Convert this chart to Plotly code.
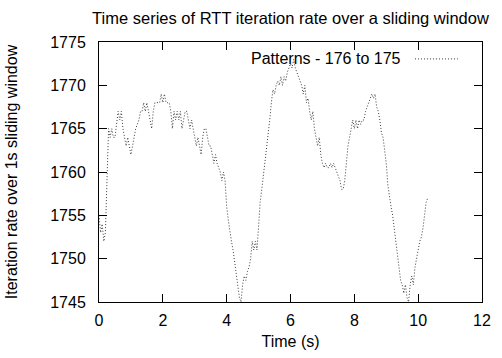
import plotly.graph_objects as go

title_text = "Time series of RTT iteration rate over a sliding window"
series_name = "Patterns - 176 to 175"
x_title = "Time (s)"
y_title = "Iteration rate over 1s sliding window"

x_ticks = [0, 2, 4, 6, 8, 10, 12]
y_ticks = [1745, 1750, 1755, 1760, 1765, 1770, 1775]

time_s = [round(i * 0.05, 2) for i in range(207)]

rate = [
    1755, 1753, 1754, 1752, 1753, 1758, 1765, 1764, 1765, 1764,   # 0.00-0.45
    1764, 1765.5, 1767, 1766, 1767, 1765, 1764, 1763, 1764, 1763, # 0.50-0.95
    1762, 1763, 1764, 1765, 1765.5, 1766, 1767, 1767, 1768, 1767, # 1.00-1.45
    1768, 1767, 1766, 1765, 1767, 1768, 1768, 1768, 1768, 1769,   # 1.50-1.95
    1768, 1769, 1768, 1768, 1768, 1767, 1765, 1767, 1766, 1767,   # 2.00-2.45
    1766, 1767, 1765, 1766, 1767, 1767, 1766, 1765, 1766, 1765,   # 2.50-2.95
    1764, 1763, 1764, 1763, 1762, 1764, 1765, 1765, 1764, 1763,   # 3.00-3.45
    1763, 1762, 1761, 1762, 1761, 1760.5, 1760, 1759, 1760, 1759, # 3.50-3.95
    1756, 1754.5, 1753, 1752, 1751, 1749.5, 1748, 1747, 1745.5, 1745,  # 4.00-4.45
    1747, 1748, 1747.5, 1748.5, 1749, 1750, 1752, 1751, 1752, 1751,    # 4.50-4.95
    1754.5, 1756.5, 1758, 1759.5, 1761, 1763, 1764.5, 1766, 1768, 1769.5,  # 5.00-5.45
    1769, 1770, 1770.5, 1770, 1771, 1770, 1771, 1770.5, 1771.5, 1772,      # 5.50-5.95
    1772.5, 1772, 1773, 1772, 1771.5, 1771, 1770.5, 1770, 1769, 1770,      # 6.00-6.45
    1768, 1768.5, 1767, 1766, 1767, 1765, 1764, 1763, 1764, 1762,          # 6.50-6.95
    1761, 1760.5, 1761, 1760.5, 1760.5, 1761, 1760.5, 1761, 1760.5, 1760,  # 7.00-7.45
    1759.5, 1759, 1758, 1758, 1759, 1761, 1763, 1764, 1765, 1766,          # 7.50-7.95
    1765, 1766, 1765, 1766, 1765.5, 1766, 1766, 1767, 1767.5, 1768,        # 8.00-8.45
    1768.5, 1769, 1768.5, 1769, 1767.5, 1767, 1766, 1764.5, 1764, 1762.5,  # 8.50-8.95
    1761, 1758.5, 1757, 1756, 1755, 1753.5, 1752, 1750, 1748.5, 1747.5,    # 9.00-9.45
    1747, 1746, 1747, 1745.5, 1745, 1747, 1748, 1747, 1749, 1750,          # 9.50-9.95
    1751, 1752, 1752.5, 1753.5, 1755, 1756.5, 1757,                        # 10.00-10.30
]

FONT = "Liberation Sans, Arial, sans-serif"
LINE_COLOR = "#3a3a3a"
LINE_DASH = "1px,2px"

fig = go.Figure()
fig.add_trace(go.Scatter(
    x=time_s, y=rate, mode="lines", name=series_name,
    line=dict(color=LINE_COLOR, width=1, dash=LINE_DASH),
    showlegend=False,
))

# gnuplot-style key: text then line sample
fig.add_annotation(
    x=0.795, y=0.935, xref="paper", yref="paper",
    text=series_name, showarrow=False, xanchor="right", yanchor="middle",
    font=dict(family=FONT, size=16, color="black"),
)
fig.add_shape(
    type="line", xref="paper", yref="paper",
    x0=0.825, x1=0.937, y0=0.935, y1=0.935,
    line=dict(color=LINE_COLOR, width=1, dash=LINE_DASH),
)

axis_common = dict(
    showline=True, linecolor="black", linewidth=1, mirror="ticks",
    ticks="inside", ticklen=8, tickcolor="black", tickwidth=1,
    showgrid=False, zeroline=False,
    tickfont=dict(family=FONT, size=16, color="black"),
)

fig.update_layout(
    width=502, height=358,
    margin=dict(l=96, r=11, t=42, b=54),
    paper_bgcolor="white", plot_bgcolor="white",
    font=dict(family=FONT, size=16, color="black"),
    title=dict(text=title_text, x=0.5, xref="paper", xanchor="center",
               y=1 - 18 / 358, yref="container", yanchor="middle",
               font=dict(family=FONT, size=16.5, color="black")),
    xaxis=dict(range=[0, 12], tickvals=x_ticks, ticktext=[str(v) for v in x_ticks],
               title=dict(text=x_title, standoff=7, font=dict(family=FONT, size=16)),
               ticklabelstandoff=4, **axis_common),
    yaxis=dict(range=[1745, 1775], tickvals=y_ticks, ticktext=[str(v) for v in y_ticks],
               title=dict(text=y_title, standoff=28, font=dict(family=FONT, size=16)),
               ticklabelstandoff=9, **axis_common),
)

fig.write_html("out.html")
